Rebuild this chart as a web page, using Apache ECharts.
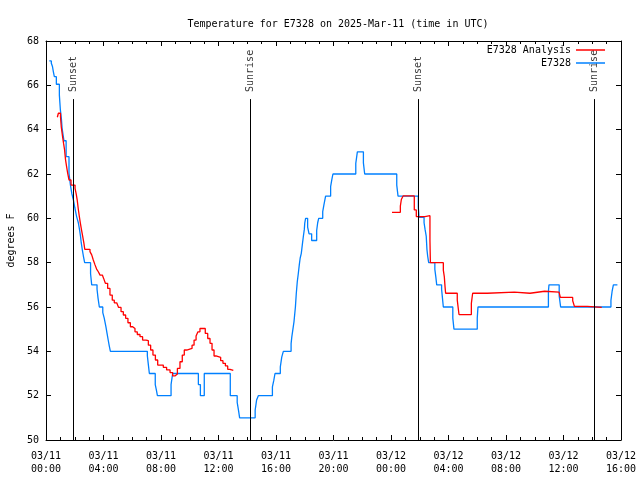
<!DOCTYPE html>
<html>
<head>
<meta charset="utf-8">
<script src="https://cdn.jsdelivr.net/npm/echarts@6/dist/echarts.min.js"></script>
<style>html,body{margin:0;padding:0;background:#fff;}#c{width:640px;height:480px;}</style>
</head>
<body>
<div id="c"></div>
<script>
// Hours since 03/11 00:00 UTC
var xTickLabels = ['03/11\n00:00','03/11\n04:00','03/11\n08:00','03/11\n12:00','03/11\n16:00','03/11\n20:00',
                   '03/12\n00:00','03/12\n04:00','03/12\n08:00','03/12\n12:00','03/12\n16:00'];
var sunTimes = [1.9, 14.21, 25.9, 38.14];
var sunLabels = ['Sunset', 'Sunrise', 'Sunset', 'Sunrise'];

var obsTimes = [0.23,0.37,0.45,0.51,0.58,0.72,0.93,1.0,1.07,1.12,1.25,1.4,1.6,1.7,1.8,1.9,2.0,2.13,2.25,2.33,2.4,2.45,2.53,2.6,2.69,
  3.1,3.18,3.55,3.62,3.71,3.95,4.05,4.17,4.25,4.33,4.4,4.48,7.05,7.12,7.19,7.6,7.68,7.75,8.7,8.81,10.6,10.74,11.01,
  12.82,13.3,13.4,13.47,14.55,14.65,14.77,15.75,15.85,15.93,16.3,16.4,16.51,17.05,17.1,17.15,17.25,17.35,17.41,17.48,
  17.55,17.62,17.68,17.76,17.83,17.9,17.97,18.0,18.06,18.2,18.3,18.48,18.83,18.9,18.97,19.25,19.33,19.45,19.8,19.88,
  19.96,21.55,21.66,22.08,22.17,24.4,24.49,25.9,25.95,26.3,26.37,26.45,26.5,26.55,26.62,27.05,27.12,27.18,27.52,27.58,
  27.64,28.3,28.38,30.0,30.05,34.95,34.99,35.7,35.8,39.3,39.38,39.47,39.75];
var obsTemps = [67.1,67.0,66.85,66.62,66.39,66.05,65.56,64.89,64.5,64.06,63.5,62.78,62.03,61.5,61.1,60.85,60.5,60.08,59.8,59.5,59.2,58.9,58.57,58.3,58.0,
  57.5,57.0,56.8,56.4,56.0,55.75,55.5,55.1,54.8,54.5,54.25,54.0,53.8,53.4,53.0,52.5,52.25,52.0,52.5,53.0,52.5,52.0,53.0,
  52.0,51.7,51.3,51.0,51.35,51.8,52.0,52.4,52.7,53.0,53.3,53.74,54.0,54.35,54.65,54.88,55.33,56.0,56.6,57.14,
  57.5,57.9,58.2,58.42,58.8,59.17,59.5,59.78,60.0,59.6,59.3,59.0,59.45,59.8,60.0,60.3,60.6,61.0,61.43,61.73,
  62.0,62.48,63.0,62.5,62.0,61.5,61.0,60.5,60.05,59.8,59.5,59.2,58.6,58.3,58.0,57.7,57.35,57.0,56.8,56.4,
  56.0,55.5,55.0,55.5,56.0,56.7,57.0,56.5,56.0,56.3,56.7,57.0,57.0];

var anaTimes = [0.79,0.86,1.01,1.06,1.15,1.22,1.29,1.36,1.43,1.51,1.6,1.74,2.02,2.1,2.17,2.25,2.32,2.39,2.47,2.55,2.63,2.7,
  3.06,3.18,3.29,3.41,3.52,3.64,3.76,3.92,4.01,4.13,4.29,4.45,4.61,4.75,4.92,5.05,5.22,5.38,5.54,5.70,5.87,6.03,6.19,
  6.35,6.54,6.72,6.96,7.12,7.28,7.44,7.61,7.77,8.16,8.39,8.63,8.81,8.97,9.14,9.32,9.48,9.62,9.79,10.16,10.30,
  10.44,10.57,10.71,11.08,11.25,11.41,11.55,11.69,11.83,11.99,12.15,12.31,12.48,12.64,12.8,13.03,
  13.03,
  24.07,24.65,24.72,24.84,25.62,25.76,26.36,26.71,26.74,27.64,27.71,27.76,27.8,28.61,28.73,29.59,29.68,30.7,32.58,
  33.67,34.69,35.69,35.78,36.64,36.76,37.66,38.66];
var anaTemps = [64.56,64.74,64.56,64.14,63.7,63.39,63.1,62.64,62.34,62.03,61.73,61.5,61.35,61.1,60.83,60.4,60.08,59.78,59.48,59.2,58.9,58.6,
  58.5,58.35,58.12,57.9,57.71,57.59,57.44,57.41,57.29,57.07,56.84,56.54,56.31,56.19,56.13,55.98,55.79,55.64,55.49,55.29,55.11,55.03,54.88,
  54.76,54.66,54.51,54.48,54.28,54.06,53.83,53.61,53.38,53.28,53.16,53.04,52.89,52.98,53.23,53.53,53.83,54.06,54.13,54.28,54.51,
  54.69,54.88,55.03,54.81,54.58,54.36,54.06,53.79,53.76,53.73,53.58,53.46,53.34,53.19,53.14,53.14,
  null,
  60.27,60.55,60.85,61.01,60.38,60.08,60.12,59.0,58.0,57.66,57.36,56.91,56.62,56.31,55.66,56.16,56.62,56.67,56.62,
  56.71,56.67,56.61,56.43,56.28,56.03,55.98,55.98];

function zip(a, b) { return a.map(function (t, i) { return [t, b[i] === null ? '-' : b[i]]; }); }

var FONT = 'DejaVu Sans Mono';
var chart = echarts.init(document.getElementById('c'), null, {renderer: 'canvas'});

var sunLines = sunTimes.map(function (t) { return [{coord: [t, 50]}, {coord: [t, 65.38]}]; });
var sunPoints = sunTimes.map(function (t, i) { return {value: [t, 65.7], name: sunLabels[i]}; });

var tickCommon = {inside: true, length: 5, lineStyle: {color: '#000', width: 1}};
var minorCommon = {show: true, splitNumber: 4, length: 3, lineStyle: {color: '#000', width: 1}};

chart.setOption({
  backgroundColor: '#fff',
  animation: false,
  textStyle: {fontFamily: FONT},
  title: {
    text: 'Temperature for E7328 on 2025-Mar-11 (time in UTC)',
    left: 333, textAlign: 'center', top: 14,
    textStyle: {fontFamily: FONT, fontSize: 10, fontWeight: 'normal', color: '#000'}
  },
  legend: {
    orient: 'vertical', right: 30, top: 40, align: 'right',
    icon: 'rect', itemWidth: 29, itemHeight: 1.5, itemGap: 3,
    textStyle: {fontFamily: FONT, fontSize: 10, color: '#000'},
    data: ['E7328 Analysis', 'E7328']
  },
  grid: {left: 46, right: 19, top: 41, bottom: 40, containLabel: false, outerBoundsMode: 'none'},
  xAxis: [{
    type: 'value', min: 0, max: 40, interval: 4,
    axisLine: {onZero: false, lineStyle: {color: '#000', width: 1}},
    axisTick: tickCommon, minorTick: minorCommon,
    splitLine: {show: false},
    axisLabel: {
      margin: 10, lineHeight: 13, fontFamily: FONT, fontSize: 10, color: '#000',
      formatter: function (v) { return xTickLabels[Math.round(v / 4)]; }
    }
  }, {
    type: 'value', min: 0, max: 40, interval: 4, position: 'top',
    axisLine: {onZero: false, lineStyle: {color: '#000', width: 1}},
    axisTick: tickCommon, minorTick: minorCommon,
    splitLine: {show: false}, axisLabel: {show: false}
  }],
  yAxis: [{
    type: 'value', min: 50, max: 68, interval: 2,
    name: 'degrees F', nameLocation: 'middle', nameRotate: 90, nameGap: 26,
    nameTextStyle: {fontFamily: FONT, fontSize: 10, color: '#000'},
    axisLine: {show: true, onZero: false, lineStyle: {color: '#000', width: 1}},
    axisTick: tickCommon,
    splitLine: {show: false},
    axisLabel: {margin: 7, fontFamily: FONT, fontSize: 10, color: '#000'}
  }, {
    type: 'value', min: 50, max: 68, interval: 2, position: 'right',
    axisLine: {show: true, onZero: false, lineStyle: {color: '#000', width: 1}},
    axisTick: tickCommon,
    splitLine: {show: false}, axisLabel: {show: false}
  }],
  series: [{
    name: 'E7328 Analysis', type: 'line', step: 'end', symbol: 'none',
    connectNulls: false,
    color: '#ff0000', lineStyle: {color: '#ff0000', width: 1.3},
    data: zip(anaTimes, anaTemps), z: 3
  }, {
    name: 'E7328', type: 'line', step: 'end', symbol: 'none',
    color: '#0080ff', lineStyle: {color: '#0080ff', width: 1.3},
    data: zip(obsTimes, obsTemps), z: 2
  }, {
    name: 'sun', type: 'scatter', symbolSize: 1, silent: true,
    itemStyle: {color: 'rgba(0,0,0,0)'},
    label: {
      show: true, position: 'inside', rotate: 90, align: 'left', verticalAlign: 'middle',
      formatter: '{b}', fontFamily: FONT, fontSize: 10, color: '#000'
    },
    data: sunPoints,
    markLine: {
      silent: true, symbol: 'none', animation: false,
      label: {show: false},
      lineStyle: {color: '#000', width: 1, type: 'solid'},
      data: sunLines
    }
  }]
});
</script>
</body>
</html>
